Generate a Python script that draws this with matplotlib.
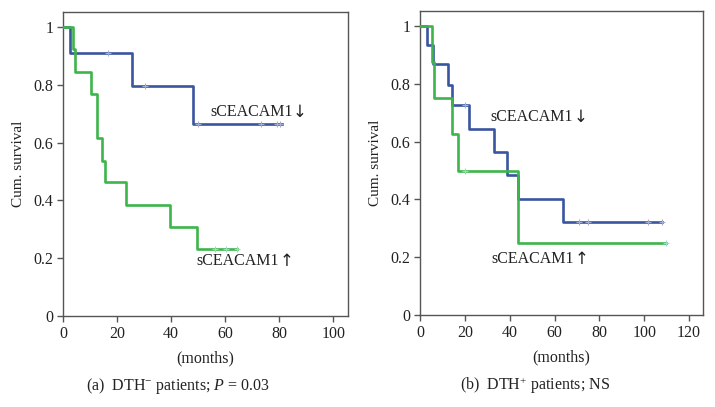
import matplotlib
matplotlib.use("Agg")
import matplotlib.pyplot as plt

# Panel (a) DTH- patients
a_low_t = [0, 2.6, 25.7, 48.3, 81]
a_low_s = [1.0, 0.909, 0.795, 0.663, 0.663]
a_low_cens_t = [16.8, 30.4, 50.1, 73.3, 79.1, 80.4]
a_low_cens_s = [0.909, 0.795, 0.663, 0.663, 0.663, 0.663]

a_high_t = [0, 3.6, 4.4, 10.4, 12.5, 14.3, 15.6, 23.5, 39.6, 49.5, 64.3]
a_high_s = [1.0, 0.923, 0.846, 0.769, 0.615, 0.538, 0.462, 0.385, 0.308, 0.231, 0.231]
a_high_cens_t = [56.3, 60.3, 64.3]
a_high_cens_s = [0.231, 0.231, 0.231]

# Panel (b) DTH+ patients
b_low_t = [0, 3.1, 5.9, 12.3, 14.1, 21.9, 33.0, 39.0, 43.8, 63.8, 107.9]
b_low_s = [1.0, 0.933, 0.867, 0.797, 0.725, 0.645, 0.565, 0.484, 0.403, 0.323, 0.323]
b_low_cens_t = [20.1, 70.8, 75.0, 101.6, 107.9]
b_low_cens_s = [0.725, 0.323, 0.323, 0.323, 0.323]

b_high_t = [0, 5.2, 6.1, 14.1, 17.0, 43.8, 109.8]
b_high_s = [1.0, 0.875, 0.75, 0.625, 0.50, 0.25, 0.25]
b_high_cens_t = [20.1, 109.8]
b_high_cens_s = [0.50, 0.25]

x_ticks_a = [0, 20, 40, 60, 80, 100]
x_ticks_b = [0, 20, 40, 60, 80, 100, 120]
y_ticks = [0, 0.2, 0.4, 0.6, 0.8, 1.0]
y_ticklabels = ["0", "0.2", "0.4", "0.6", "0.8", "1"]

BLUE = "#3a55a0"
GREEN = "#3db54a"
BLUE_C = "#a3aed0"
GREEN_C = "#9adbd0"
FRAME = "#555555"
TXT = "#222222"
SERIF = ["Liberation Serif", "DejaVu Serif"]

plt.rcParams["font.family"] = SERIF
plt.rcParams["mathtext.fontset"] = "custom"
plt.rcParams["mathtext.rm"] = "Liberation Serif"
plt.rcParams["mathtext.it"] = "Liberation Serif:italic"

fig = plt.figure(figsize=(7.15, 4.07), dpi=100)
W, H = 715, 407

def make_ax(x0, x1, ytop, ybot):
    return fig.add_axes([x0 / W, (H - ybot) / H, (x1 - x0) / W, (ybot - ytop) / H])

axa = make_ax(63, 348, 12, 316)
axb = make_ax(420, 703, 11, 315)

def draw(ax, lt, ls, lct, lcs, ht, hs, hct, hcs, xmax, xticks):
    ax.step(lt, ls, where="post", color=BLUE, lw=1.9, zorder=3)
    ax.step(ht, hs, where="post", color=GREEN, lw=1.9, zorder=3)
    ax.plot(lct, lcs, ls="none", marker="+", ms=4, mew=0.8, color=BLUE_C, zorder=4)
    ax.plot(hct, hcs, ls="none", marker="+", ms=4, mew=0.8, color=GREEN_C, zorder=4)
    ax.set_xlim(0, xmax)
    ax.set_ylim(0, 1.052)
    ax.set_xticks(xticks)
    ax.set_xticklabels([str(v) for v in xticks])
    ax.set_yticks(y_ticks)
    ax.set_yticklabels(y_ticklabels)
    for s in ax.spines.values():
        s.set_color(FRAME)
        s.set_linewidth(1.0)
    ax.tick_params(direction="out", length=4, width=1.0, color=FRAME,
                   labelsize=11.5, labelcolor=TXT, pad=3)
    ax.set_xlabel("(months)", fontsize=11.5, color=TXT, labelpad=6)
    ax.set_ylabel("Cum. survival", fontsize=11, color=TXT, labelpad=6)

draw(axa, a_low_t, a_low_s, a_low_cens_t, a_low_cens_s,
     a_high_t, a_high_s, a_high_cens_t, a_high_cens_s, 105.5, x_ticks_a)
draw(axb, b_low_t, b_low_s, b_low_cens_t, b_low_cens_s,
     b_high_t, b_high_s, b_high_cens_t, b_high_cens_s, 126.2, x_ticks_b)

def label(ax, x, y, arrow):
    t = ax.text(x, y, "sCEACAM1", fontsize=11.5, va="center", ha="left", color=TXT)
    ax.annotate(arrow, xy=(1.0, 0.5), xycoords=t, va="center", ha="left",
                fontsize=12, color=TXT, family="DejaVu Sans")

label(axa, 54.5, 0.705, "\u2193")
label(axa, 49.5, 0.19, "\u2191")
label(axb, 31.5, 0.685, "\u2193")
label(axb, 32.0, 0.195, "\u2191")

fig.text(178 / W, 1 - 386 / H, "(a)  DTH$^{-}$ patients; $\\it{P}$ = 0.03", fontsize=11.5,
         ha="center", va="center", color=TXT)
fig.text(535 / W, 1 - 386 / H, "(b)  DTH$^{+}$ patients; NS", fontsize=11.5,
         ha="center", va="center", color=TXT)

fig.savefig("out.png", dpi=100)
